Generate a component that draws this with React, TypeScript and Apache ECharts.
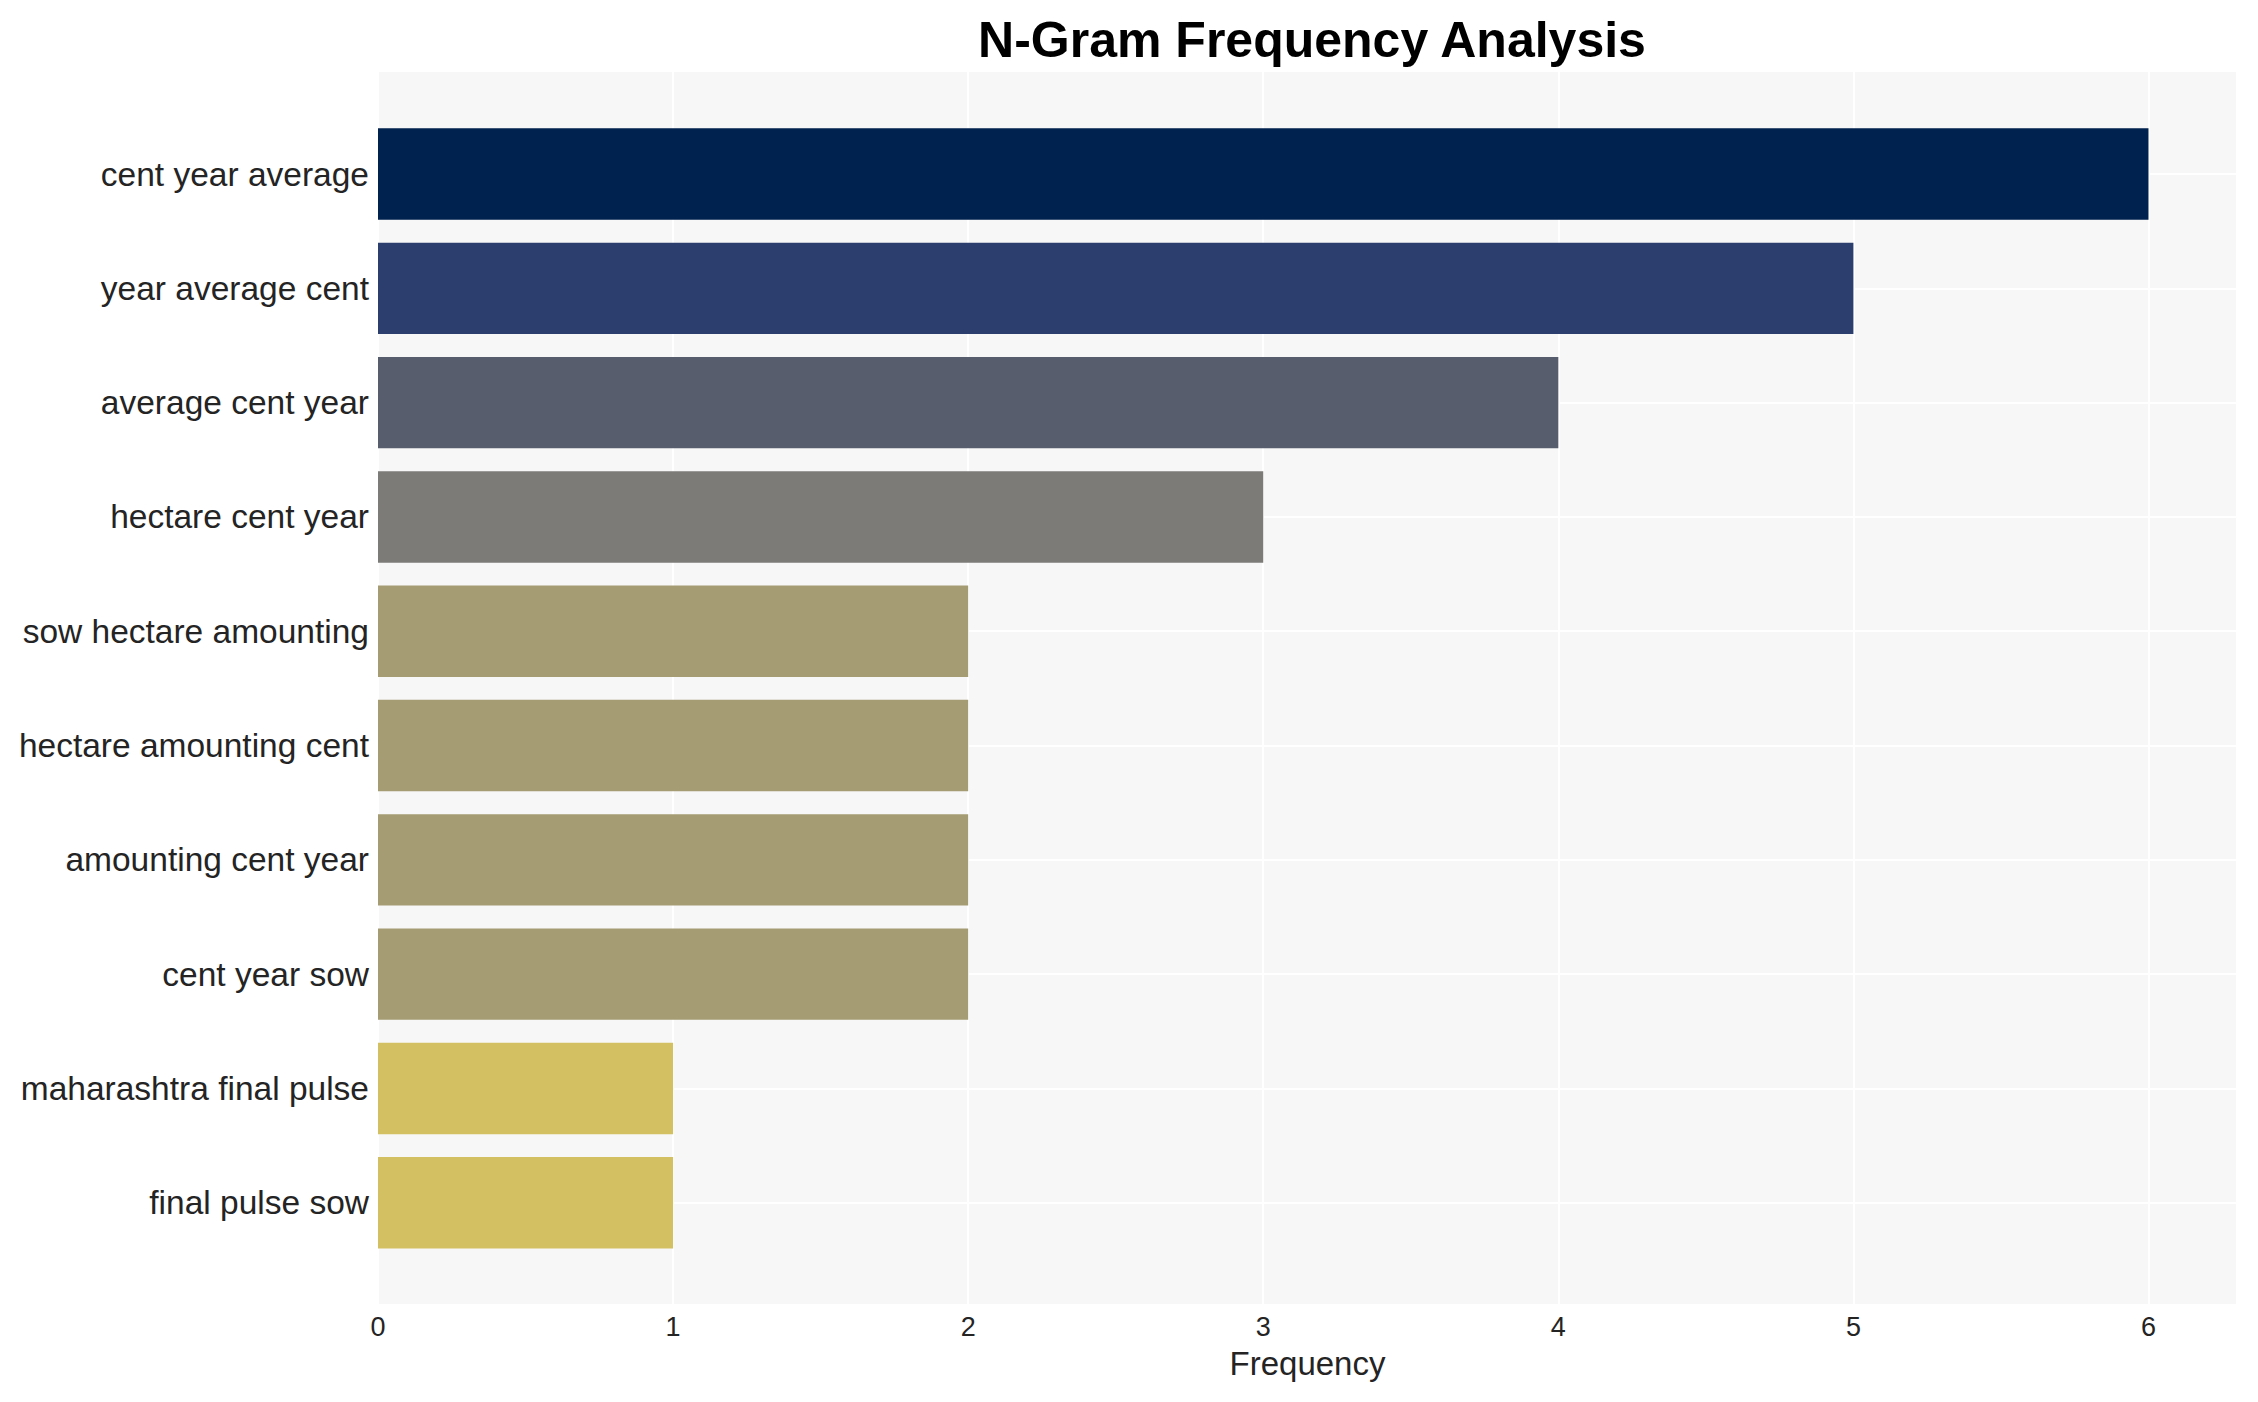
import React, { useEffect, useRef } from "react";
import * as echarts from "echarts";

const categories = [
  "cent year average",
  "year average cent",
  "average cent year",
  "hectare cent year",
  "sow hectare amounting",
  "hectare amounting cent",
  "amounting cent year",
  "cent year sow",
  "maharashtra final pulse",
  "final pulse sow",
];
const frequencies = [6, 5, 4, 3, 2, 2, 2, 2, 1, 1];
const barColors = [
  "#00224e",
  "#2c3e6d",
  "#585d6d",
  "#7c7b78",
  "#a59c73",
  "#a59c73",
  "#a59c73",
  "#a59c73",
  "#d3c062",
  "#d3c062",
];
const xTicks = [0, 1, 2, 3, 4, 5, 6];

const FONT = "'Liberation Sans', Arial, sans-serif";
const TEXT = "#242424";

export default function App() {
  const ref = useRef<HTMLDivElement>(null);
  useEffect(() => {
    if (!ref.current) return;
    const chart = echarts.init(ref.current, null, { renderer: "svg" });
    chart.setOption({
      animation: false,
      backgroundColor: "#ffffff",
      textStyle: { fontFamily: FONT },
      title: {
        text: "N-Gram Frequency Analysis",
        left: 1307,
        textAlign: "center",
        top: 10,
        textStyle: { fontSize: 50, fontWeight: "bold", color: "#000", fontFamily: FONT },
      },
      grid: [
        { left: 378, right: 21, top: 116.9, bottom: 142.1, containLabel: false },
        {
          left: 378,
          right: 21,
          top: 72,
          bottom: 98,
          show: true,
          backgroundColor: "#f7f7f7",
          borderWidth: 0,
          z: -1,
        },
      ],
      xAxis: [
        {
          type: "value",
          gridIndex: 0,
          min: 0,
          max: 6.3,
          show: false,
          splitLine: { show: false },
        },
        {
          type: "value",
          gridIndex: 1,
          min: 0,
          max: 6.3,
          interval: 1,
          name: "Frequency",
          nameLocation: "middle",
          nameGap: 43,
          nameTextStyle: { fontSize: 33, color: TEXT, fontFamily: FONT },
          axisLine: { show: false },
          axisTick: { show: false },
          axisLabel: {
            fontSize: 27,
            color: TEXT,
            margin: 9,
            showMaxLabel: false,
            formatter: (v: number) => (xTicks.includes(v) ? String(v) : ""),
          },
          splitLine: { show: true, lineStyle: { color: "#ffffff", width: 2 } },
        },
      ],
      yAxis: [
        {
          type: "category",
          gridIndex: 0,
          data: categories,
          inverse: true,
          axisLine: { show: false },
          axisTick: { show: false },
          splitLine: { show: false },
          axisLabel: { fontSize: 33.5, color: TEXT, margin: 9, fontFamily: FONT },
        },
        {
          type: "value",
          gridIndex: 1,
          min: 0,
          max: 1,
          show: false,
          splitLine: { show: false },
        },
      ],
      series: [
        {
          type: "bar",
          xAxisIndex: 0,
          yAxisIndex: 0,
          barWidth: "80%",
          z: 3,
          data: frequencies.map((v, i) => ({ value: v, itemStyle: { color: barColors[i] } })),
          markLine: {
            silent: true,
            z: 1,
            symbol: ["none", "none"],
            label: { show: false },
            lineStyle: { color: "#ffffff", width: 2, type: "solid" },
            data: categories.map((c) => ({ yAxis: c })),
          },
        },
      ],
    });
    return () => chart.dispose();
  }, []);
  return (
    <div
      ref={ref}
      style={{ position: "fixed", left: 0, top: 0, width: 2258, height: 1402 }}
    />
  );
}
